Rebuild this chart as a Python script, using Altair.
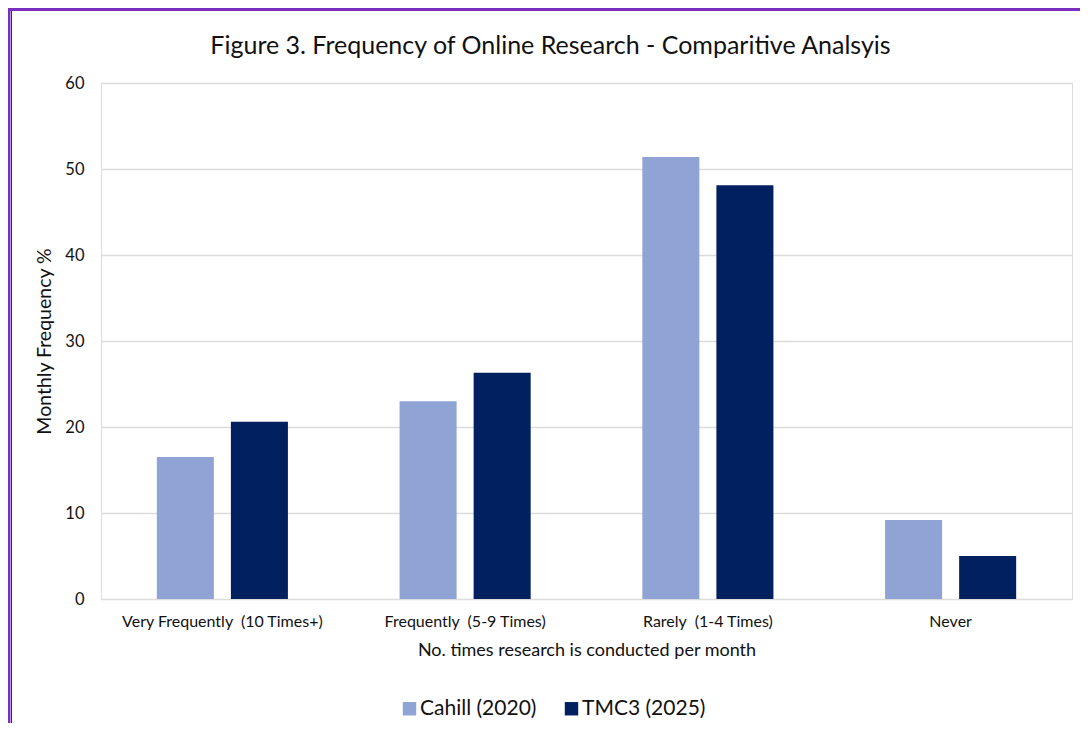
import altair as alt
import pandas as pd

categories = ["Very Frequently \u00a0(10 Times+)", "Frequently \u00a0(5-9 Times)",
              "Rarely \u00a0(1-4 Times)", "Never"]
series = ["Cahill (2020)", "TMC3 (2025)"]
cahill = [16.5, 23.0, 51.4, 9.2]
tmc3 = [20.6, 26.3, 48.1, 5.0]
colors = ["#8FA3D4", "#002060"]
y_ticks = [0, 10, 20, 30, 40, 50, 60]

rows = []
for c, a, b in zip(categories, cahill, tmc3):
    rows.append({"cat": c, "series": series[0], "value": a})
    rows.append({"cat": c, "series": series[1], "value": b})
df = pd.DataFrame(rows)

FONT = "Lato"
W, H = 971, 516

bars = alt.Chart(df).mark_bar().encode(
    x=alt.X("cat:N", sort=categories,
            scale=alt.Scale(paddingInner=0.46, paddingOuter=0.23),
            axis=alt.Axis(title="No. times research is conducted per month",
                          labelAngle=0, domain=False, ticks=False,
                          labelPadding=14, titlePadding=12,
                          labelFontSize=16, titleFontSize=18,
                          labelFont=FONT, titleFont=FONT,
                          labelColor="#111", titleColor="#111",
                          titleFontWeight="normal", labelLimit=400)),
    xOffset=alt.XOffset("series:N", sort=series, scale=alt.Scale(paddingInner=0.23)),
    y=alt.Y("value:Q", scale=alt.Scale(domain=[0, 60]),
            axis=alt.Axis(title="Monthly Frequency %", values=y_ticks,
                          domain=False, ticks=False, labelPadding=17,
                          titlePadding=10, labelFontSize=16.5, titleFontSize=19.5,
                          labelFont=FONT, titleFont=FONT,
                          labelColor="#111", titleColor="#111",
                          titleFontWeight="normal",
                          gridColor="#DCDCDC", gridWidth=1.5)),
    color=alt.Color("series:N", sort=series,
                    scale=alt.Scale(domain=series, range=colors),
                    legend=alt.Legend(title=None, orient="none", direction="horizontal",
                                      legendX=298, legendY=615,
                                      symbolType="square", symbolSize=180,
                                      symbolStrokeWidth=0, labelFontSize=21,
                                      labelFont=FONT, labelColor="#111",
                                      columnPadding=24, labelOffset=0, padding=0)),
)

frame_df = pd.DataFrame({"k": [0]})
top_line = alt.Chart(frame_df).mark_rule(color="#7B2FBE", strokeWidth=3).encode(
    x=alt.value(-95), x2=alt.value(W + 10), y=alt.value(-73.5))
left_line = alt.Chart(frame_df).mark_rule(color="#7B2FBE", strokeWidth=3).encode(
    x=alt.value(-92), y=alt.value(-75), y2=alt.value(H + 130))
left_dark = alt.Chart(frame_df).mark_rule(color="#333333", strokeWidth=1).encode(
    x=alt.value(-89.5), y=alt.value(-72), y2=alt.value(H + 130))

chart = alt.layer(bars, top_line, left_line, left_dark).properties(
    width=W, height=H,
    title=alt.Title("Figure 3. Frequency of Online Research - Comparitive Analsyis",
                    font=FONT, fontSize=25, fontWeight="normal", color="#111",
                    anchor="middle", dx=-36, offset=-52),
    autosize=alt.AutoSizeParams(type="none"),
    padding={"left": 93, "top": 75, "right": 8, "bottom": 124},
).configure_view(stroke=None).configure(background="white")

chart.save("out.html", embed_options={"renderer": "svg", "actions": False})
